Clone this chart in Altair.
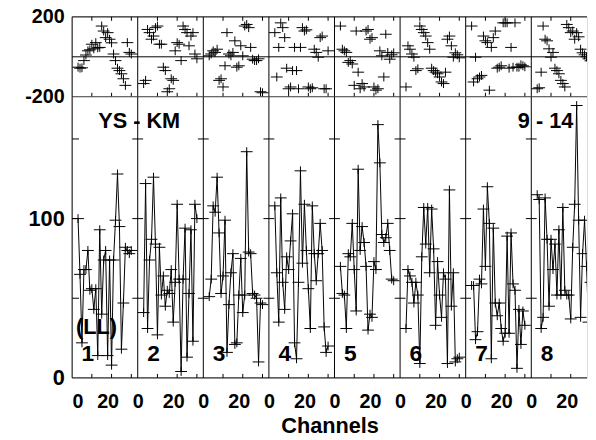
import altair as alt
import pandas as pd

# ---- data (8 IF panels, channels 3..30) ----
PANEL_CH = 33.25           # channel width of one panel on the shared axis
channels = list(range(3, 31))

amp_1 = [100, 65, 22, 68, 68, 80, 55, 56, 43, 56, 14, 93, 40, 74, 80, 14, 74, 8, 74, 99, 128, 95, 18, 47, 82, 80, 78, 80]
amp_2 = [41, 122, 31, 74, 87, 126, 84, 27, 82, 52, 64, 45, 55, 53, 68, 35, 60, 109, 62, 4, 62, 94, 13, 53, 93, 23, 109, 100]
amp_3 = [51, 62, 108, 104, 126, 91, 53, 64, 99, 16, 46, 66, 78, 21, 22, 52, 75, 41, 52, 142, 79, 78, 53, 52, 50, 10, 47, 46]
amp_4 = [108, 66, 35, 113, 60, 43, 76, 68, 86, 103, 22, 12, 60, 130, 72, 109, 80, 56, 31, 108, 78, 61, 78, 97, 80, 32, 16, 20]
amp_5 = [70, 53, 52, 31, 78, 76, 97, 68, 42, 131, 80, 95, 85, 70, 30, 40, 38, 73, 68, 159, 135, 90, 85, 88, 97, 80, 62, 61]
amp_6 = [31, 68, 64, 60, 47, 60, 52, 9, 76, 107, 84, 107, 66, 106, 81, 33, 73, 52, 38, 66, 62, 9, 118, 45, 66, 10, 12, 13]
amp_7 = [58, 58, 24, 29, 62, 59, 106, 70, 120, 97, 12, 94, 47, 39, 47, 31, 23, 28, 89, 28, 91, 59, 55, 6, 43, 21, 42, 33]
amp_8 = [115, 112, 31, 38, 113, 87, 45, 87, 68, 84, 52, 93, 52, 107, 55, 52, 52, 37, 82, 109, 171, 99, 38, 78, 99, 70, 35, 60]

phase_1 = [-52, -57, -55, -19, 9, 30, 35, 63, 40, 71, 45, 47, 154, 129, 96, 121, 88, 70, 14, -19, -57, -69, -85, -110, -143, 71, 22, 14]
phase_2 = [-134, -118, 137, 121, 88, 104, 146, 154, 63, 63, -52, -69, -175, -160, -110, -118, 30, 71, 63, -19, 154, 137, 121, 55, 104, 121, 14, -10]
phase_3 = [5, 14, 30, 22, 38, -118, -110, -151, -45, 121, 14, 5, 22, 80, -52, -45, 55, 5, 154, 162, 146, 47, -12, -19, -19, -10, -175, -180]
phase_4 = [121, -101, 47, 170, 146, 96, -57, -160, -151, -69, 47, -69, -160, 47, 146, 129, 135, -151, -160, -155, 38, 22, -2, 96, 104, -160, -160, 30]
phase_5 = [154, 38, 30, 22, -28, -19, -36, -143, 129, -77, -160, -134, -151, 129, 137, 88, 96, -151, -167, -160, 30, 5, -101, 113, 22, -12, 10, 20]
phase_6 = [-151, 55, 38, 14, -2, -69, -60, 154, 137, 121, 104, 71, 38, -57, -69, -77, -85, -101, -126, -134, -77, 88, 104, 55, -2, 20, 10, -5]
phase_7 = [154, -126, -2, -110, -101, -93, 104, 80, 71, -167, 47, 96, 129, -57, -52, -45, 170, 170, 170, -57, 47, -52, 170, -52, -52, -40, -45, -50]
phase_8 = [-160, -155, -77, 154, 88, 80, 40, -2, 22, -57, -69, -85, -118, -134, -151, 162, 146, 121, 129, 88, 121, 100, 38, 20, 10, 0, -10, -20]

amps = [amp_1, amp_2, amp_3, amp_4, amp_5, amp_6, amp_7, amp_8]
phases = [phase_1, phase_2, phase_3, phase_4, phase_5, phase_6, phase_7, phase_8]

x_tick_labels = [0, 20]
x_minor = [10, 20, 30]
amp_label_values = [0, 100]
amp_tick_values = [50, 100, 150]
phase_label_values = [200, -200]
phase_lines = [200, 0, -200]

annotations = pd.DataFrame({
    "panel": [1, 8, 1],
    "ch": [34, 7.25, 12.3],
    "amp": [161, 161, 32],
    "text": ["YS - KM", "9 - 14", "(LL)"],
})
panel_numbers = [str(i) for i in range(1, 9)]

# ---- tables ----
rows = []
for p in range(8):
    for j, c in enumerate(channels):
        rows.append({"panel": p + 1, "channel": c, "amp": amps[p][j], "phase": phases[p][j]})
df = pd.DataFrame(rows)

bounds = pd.DataFrame({"b": [k * PANEL_CH for k in range(8)]})
xt = pd.DataFrame({"t": [k * PANEL_CH + c for k in range(8) for c in x_minor if k * PANEL_CH + c <= 261]})
ytick_mid = pd.DataFrame([{"x1": k * PANEL_CH - 2.75, "x2": k * PANEL_CH + 2.75, "v": v}
                          for k in range(1, 8) for v in amp_tick_values])
ytick_left = pd.DataFrame([{"x1": 0, "x2": 3.5, "v": v} for v in amp_tick_values])
nums = pd.DataFrame({"panel": list(range(1, 9)), "text": panel_numbers})

FONT = "Liberation Sans"
W, HP, HA = 522, 81, 285
CROSS = "M-1,0H1M0,-0.75V0.75"

xs = alt.Scale(domain=[0, 261], nice=False, zero=False)
ysp = alt.Scale(domain=[-200, 200], nice=False)
ysa = alt.Scale(domain=[0, 176.5], nice=False)

gx = f"(datum.panel - 1) * {PANEL_CH} + datum.channel"
base = alt.Chart(df).transform_calculate(gx=gx)

# ---------- phase panel ----------
phase_axis = alt.Axis(values=phase_label_values, labelExpr="'' + datum.value",
                      domain=False, ticks=False, tickSize=0, grid=False,
                      labelFont=FONT, labelFontSize=20, labelFontWeight="bold", labelColor="black",
                      labelPadding=8, title=None)
ph_pts = base.mark_point(shape=CROSS, size=144, filled=False, stroke="black", strokeWidth=1,
                         opacity=1, clip=True).encode(
    x=alt.X("gx:Q", scale=xs, axis=None),
    y=alt.Y("phase:Q", scale=ysp, axis=phase_axis),
)
ph_h = alt.Chart(pd.DataFrame({"v": phase_lines})).mark_rule(color="black", strokeWidth=1).encode(
    y=alt.Y("v:Q", scale=ysp, axis=phase_axis))
ph_v = alt.Chart(bounds).mark_rule(color="black", strokeWidth=1).encode(
    x=alt.X("b:Q", scale=xs, axis=None))
ph_tt = alt.Chart(xt).mark_rule(color="black", strokeWidth=1).encode(
    x=alt.X("t:Q", scale=xs, axis=None), y=alt.value(0), y2=alt.value(4))
ph_tb = alt.Chart(xt).mark_rule(color="black", strokeWidth=1).encode(
    x=alt.X("t:Q", scale=xs, axis=None), y=alt.value(HP - 4), y2=alt.value(HP))
phase_chart = alt.layer(ph_h, ph_v, ph_tt, ph_tb, ph_pts).properties(width=W, height=HP)

# ---------- amplitude panel ----------
xvals = [k * PANEL_CH + v for k in range(8) for v in x_tick_labels]
x_axis = alt.Axis(values=xvals, labelExpr=f"round(datum.value % {PANEL_CH})",
                  domain=False, ticks=False, tickSize=0, grid=False, labelOverlap=False,
                  labelFont=FONT, labelFontSize=20, labelFontWeight="bold", labelColor="black",
                  labelPadding=14,
                  labelOffset={"condition": {"test": f"round(datum.value % {PANEL_CH}) == 20", "value": -4},
                               "value": 0},
                  title="Channels", titleFont=FONT, titleFontSize=22, titleFontWeight="bold",
                  titleColor="black", titlePadding=4)
amp_axis = alt.Axis(values=amp_label_values, domain=False, ticks=False, tickSize=0, grid=False,
                    labelFont=FONT, labelFontSize=22, labelFontWeight="bold", labelColor="black",
                    labelPadding=8, title=None)

XA = lambda f: alt.X(f, scale=xs, axis=x_axis)
YA = lambda f: alt.Y(f, scale=ysa, axis=amp_axis)

a_line = base.mark_line(color="black", strokeWidth=1, clip=True).encode(
    x=XA("gx:Q"), y=YA("amp:Q"), detail="panel:N")
a_pts = base.mark_point(shape=CROSS, size=144, filled=False, stroke="black", strokeWidth=1,
                        opacity=1, clip=True).encode(x=XA("gx:Q"), y=YA("amp:Q"))
a_bottom = alt.Chart(pd.DataFrame({"v": [0]})).mark_rule(color="black", strokeWidth=1).encode(
    y=YA("v:Q"))
a_v = alt.Chart(bounds).mark_rule(color="black", strokeWidth=1).encode(x=XA("b:Q"))
a_tb = alt.Chart(xt).mark_rule(color="black", strokeWidth=1).encode(
    x=XA("t:Q"), y=alt.value(HA - 4), y2=alt.value(HA))
a_ym = alt.Chart(ytick_mid).mark_rule(color="black", strokeWidth=1).encode(
    x=XA("x1:Q"), x2="x2:Q", y=YA("v:Q"))
a_yl = alt.Chart(ytick_left).mark_rule(color="black", strokeWidth=1).encode(
    x=XA("x1:Q"), x2="x2:Q", y=YA("v:Q"))
a_txt = alt.Chart(annotations).transform_calculate(
    gx=f"(datum.panel - 1) * {PANEL_CH} + datum.ch").mark_text(
    font=FONT, fontSize=22, fontWeight="bold", color="black").encode(
    x=XA("gx:Q"), y=YA("amp:Q"), text="text:N")
a_num = alt.Chart(nums).transform_calculate(
    gx=f"(datum.panel - 1) * {PANEL_CH} + 8", av="15").mark_text(
    font=FONT, fontSize=23, fontWeight="bold", color="black").encode(
    x=XA("gx:Q"), y=YA("av:Q"), text="text:N")

amp_chart = alt.layer(a_bottom, a_v, a_tb, a_ym, a_yl, a_line, a_pts, a_txt, a_num).properties(
    width=W, height=HA)

chart = alt.vconcat(phase_chart, amp_chart, spacing=0, bounds="flush").properties(
    padding={"left": 16, "top": -5, "right": 0, "bottom": 0},
).configure_view(stroke=None).configure(background="white")

chart.save("out.html", embed_options={"renderer": "svg", "actions": False})
